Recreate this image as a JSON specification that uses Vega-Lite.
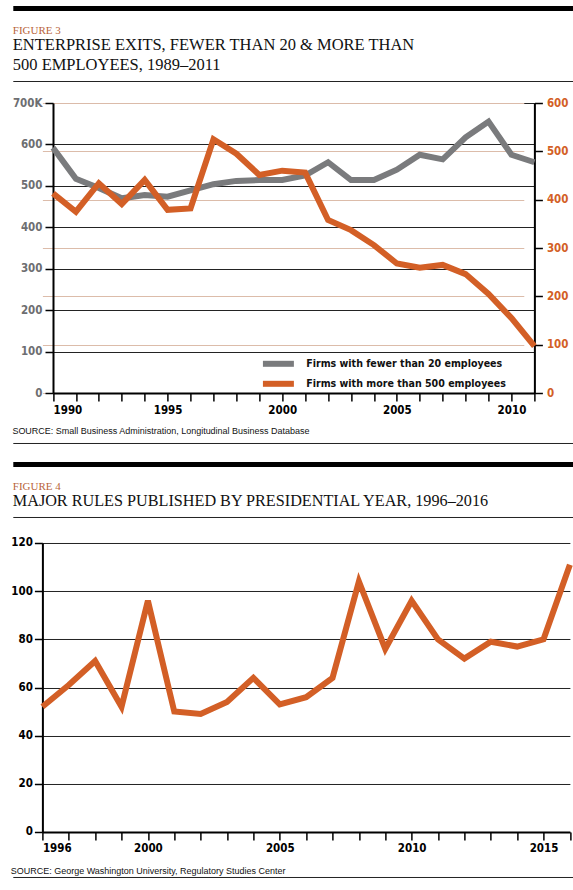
{
  "$schema": "https://vega.github.io/schema/vega-lite/v6.json",
  "padding": {"left": 10.4, "top": 8, "right": 0, "bottom": 0},
  "background": "white",
  "spacing": 0,
  "datasets": {
    "fig3": [
      {"year": 1990, "small": 592, "large": 413},
      {"year": 1991, "small": 517, "large": 375},
      {"year": 1992, "small": 495, "large": 434},
      {"year": 1993, "small": 470, "large": 391},
      {"year": 1994, "small": 478, "large": 441},
      {"year": 1995, "small": 474, "large": 379},
      {"year": 1996, "small": 489, "large": 382},
      {"year": 1997, "small": 504, "large": 525},
      {"year": 1998, "small": 512, "large": 495},
      {"year": 1999, "small": 514, "large": 451},
      {"year": 2000, "small": 514, "large": 460},
      {"year": 2001, "small": 525, "large": 456},
      {"year": 2002, "small": 557, "large": 358},
      {"year": 2003, "small": 514, "large": 337},
      {"year": 2004, "small": 514, "large": 306},
      {"year": 2005, "small": 539, "large": 268},
      {"year": 2006, "small": 575, "large": 259},
      {"year": 2007, "small": 564, "large": 265},
      {"year": 2008, "small": 617, "large": 246},
      {"year": 2009, "small": 655, "large": 205},
      {"year": 2010, "small": 575, "large": 155},
      {"year": 2011, "small": 557, "large": 97}
    ],
    "fig4": [
      {"year": 1996, "rules": 52},
      {"year": 1997, "rules": 61},
      {"year": 1998, "rules": 71},
      {"year": 1999, "rules": 52},
      {"year": 2000, "rules": 96},
      {"year": 2001, "rules": 50},
      {"year": 2002, "rules": 49},
      {"year": 2003, "rules": 54},
      {"year": 2004, "rules": 64},
      {"year": 2005, "rules": 53},
      {"year": 2006, "rules": 56},
      {"year": 2007, "rules": 64},
      {"year": 2008, "rules": 104},
      {"year": 2009, "rules": 76},
      {"year": 2010, "rules": 96},
      {"year": 2011, "rules": 80},
      {"year": 2012, "rules": 72},
      {"year": 2013, "rules": 79},
      {"year": 2014, "rules": 77},
      {"year": 2015, "rules": 80},
      {"year": 2016, "rules": 111}
    ],
    "none": []
  },
  "vconcat": [
    {
      "width": 530.6, "height": 2.5,
      "data": {"name": "none"},
      "mark": "rule",
      "encoding": {"x": {"field": "v", "type": "quantitative", "scale": {"domain": [0, 1], "range": [0, 560.2]},
        "axis": {"orient": "top", "position": -29.6, "title": null, "labels": false, "ticks": false, "grid": false, "domainColor": "#000", "domainWidth": 5}}}
    },
    {
      "width": 530.6, "height": 14,
      "data": {"name": "none"},
      "mark": "rule",
      "encoding": {"x": {"field": "v", "type": "quantitative", "scale": {"domain": [0, 1], "range": [0, 20]},
        "axis": {"orient": "bottom", "position": -32, "title": null, "labels": false, "ticks": false, "grid": false, "domainColor": "#fff", "domainWidth": 0.5}}}
    },
    {
      "width": 530.6, "height": 0.5,
      "data": {"name": "none"},
      "mark": "rule",
      "encoding": {"x": {"field": "v", "type": "quantitative", "scale": {"domain": [0, 1], "range": [0, 560.2]},
        "axis": {"orient": "top", "position": -29.6, "title": null, "labels": false, "ticks": false, "grid": false, "domainColor": "#222", "domainWidth": 1}}},
      "title": {
        "text": "FIGURE 3",
        "subtitle": ["ENTERPRISE EXITS, FEWER THAN 20 & MORE THAN", "500 EMPLOYEES, 1989–2011"],
        "anchor": "start",
        "font": "Liberation Serif",
        "fontSize": 11,
        "fontWeight": "normal",
        "color": "#b8643a",
        "subtitleFont": "Liberation Serif",
        "subtitleFontSize": 16.5,
        "subtitleColor": "#111",
        "subtitleLineHeight": 20,
        "subtitlePadding": 1,
        "offset": 7.5
      }
    },
    {
      "width": 530.6, "height": 14.25,
      "data": {"name": "none"},
      "mark": "rule", "encoding": {}
    },
    {
      "width": 492, "height": 290,
      "data": {"name": "fig3"},
      "title": {
        "text": "SOURCE: Small Business Administration, Longitudinal Business Database",
        "orient": "bottom", "anchor": "start",
        "font": "Liberation Sans", "fontSize": 9, "fontWeight": "normal",
        "color": "#111", "offset": 11.5
      },
      "encoding": {
        "x": {
          "field": "year", "type": "quantitative",
          "scale": {"domain": [1990, 2011], "nice": false, "zero": false, "range": [10.6, 492]},
          "axis": {
            "title": null,
            "values": [1990, 1991, 1992, 1993, 1994, 1995, 1996, 1997, 1998, 1999, 2000, 2001, 2002, 2003, 2004, 2005, 2006, 2007, 2008, 2009, 2010, 2011],
            "format": "d",
            "labelExpr": "datum.value % 5 == 0 ? datum.label : ''",
            "labelOverlap": false,
            "grid": false,
            "domainColor": "#000", "domainWidth": 2,
            "tickColor": "#000", "tickSize": 8, "tickWidth": 1.5,
            "labelColor": "#000", "labelPadding": 3
          }
        }
      },
      "layer": [
        {
          "mark": {"type": "line", "strokeWidth": 6, "color": "#7a7b7d"},
          "encoding": {
            "y": {
              "field": "small", "type": "quantitative",
              "scale": {"domain": [0, 700], "nice": false},
              "axis": {
                "title": null, "orient": "left", "offset": -10.6,
                "values": [0, 100, 200, 300, 400, 500, 600, 700],
                "labelExpr": "datum.value == 700 ? '700K' : datum.label",
                "grid": true, "gridColor": "#222", "gridWidth": 1,
                "domainColor": "#000", "domainWidth": 2,
                "tickColor": "#000", "tickSize": 8, "tickWidth": 1.5,
                "labelColor": "#6d6e71", "labelPadding": 3
              }
            },
            "color": {"datum": "Firms with fewer than 20 employees"}
          }
        },
        {
          "mark": {"type": "line", "strokeWidth": 6, "color": "#d35f26"},
          "encoding": {
            "y": {
              "field": "large", "type": "quantitative",
              "scale": {"domain": [0, 600], "nice": false},
              "axis": {
                "title": null, "orient": "right",
                "values": [0, 100, 200, 300, 400, 500, 600],
                "grid": true, "gridColor": "#dcbcaa", "gridWidth": 1,
                "domainColor": "#000", "domainWidth": 2,
                "tickColor": "#000", "tickSize": 8, "tickWidth": 1.5,
                "labelColor": "#d35f26", "labelPadding": 4
              }
            },
            "color": {
              "datum": "Firms with more than 500 employees",
              "scale": {
                "domain": ["Firms with fewer than 20 employees", "Firms with more than 500 employees"],
                "range": ["#7a7b7d", "#d35f26"]
              },
              "legend": {
                "title": null, "orient": "none",
                "legendX": 214.3, "legendY": 348.3, "padding": 0,
                "symbolType": "M-0.3,0H7", "symbolStrokeWidth": 6, "symbolSize": 72,
                "labelOffset": 34.5, "rowPadding": -21, "labelLimit": 0,
                "labelFontSize": 10.6, "labelFontWeight": "bold", "labelColor": "#111",
                "labelFont": "'Liberation Sans Narrow', 'DejaVu Sans Condensed', 'Roboto Condensed', Roboto, sans-serif",
                "encode": {"symbols": {"update": {"strokeCap": {"value": "round"}}}}
              }
            }
          }
        }
      ],
      "resolve": {"scale": {"y": "independent"}}
    },
    {
      "width": 530.6, "height": 6.5,
      "data": {"name": "none"},
      "mark": "rule", "encoding": {}
    },
    {
      "width": 530.6, "height": 0.5,
      "data": {"name": "none"},
      "mark": "rule",
      "encoding": {"x": {"field": "v", "type": "quantitative", "scale": {"domain": [0, 1], "range": [0, 560.2]},
        "axis": {"orient": "top", "position": -29.6, "title": null, "labels": false, "ticks": false, "grid": false, "domainColor": "#222", "domainWidth": 1}}}
    },
    {
      "width": 530.6, "height": 20,
      "data": {"name": "none"},
      "mark": "rule", "encoding": {}
    },
    {
      "width": 530.6, "height": 2.5,
      "data": {"name": "none"},
      "mark": "rule",
      "encoding": {"x": {"field": "v", "type": "quantitative", "scale": {"domain": [0, 1], "range": [0, 560.2]},
        "axis": {"orient": "top", "position": -29.6, "title": null, "labels": false, "ticks": false, "grid": false, "domainColor": "#000", "domainWidth": 5}}}
    },
    {
      "width": 530.6, "height": 14,
      "data": {"name": "none"},
      "mark": "rule", "encoding": {}
    },
    {
      "width": 530.6, "height": 0.5,
      "data": {"name": "none"},
      "mark": "rule",
      "encoding": {"x": {"field": "v", "type": "quantitative", "scale": {"domain": [0, 1], "range": [0, 560.2]},
        "axis": {"orient": "top", "position": -29.6, "title": null, "labels": false, "ticks": false, "grid": false, "domainColor": "#222", "domainWidth": 1}}},
      "title": {
        "text": "FIGURE 4",
        "subtitle": "MAJOR RULES PUBLISHED BY PRESIDENTIAL YEAR, 1996–2016",
        "anchor": "start",
        "font": "Liberation Serif",
        "fontSize": 11,
        "fontWeight": "normal",
        "color": "#b8643a",
        "subtitleFont": "Liberation Serif",
        "subtitleFontSize": 16.2,
        "subtitleColor": "#111",
        "subtitleLineHeight": 20,
        "subtitlePadding": 1,
        "offset": 7.5
      }
    },
    {
      "width": 530.6, "height": 18.5,
      "data": {"name": "none"},
      "mark": "rule", "encoding": {}
    },
    {
      "width": 527.5, "height": 289,
      "data": {"name": "fig4"},
      "title": {
        "text": "SOURCE: George Washington University, Regulatory Studies Center",
        "orient": "bottom", "anchor": "start",
        "font": "Liberation Sans", "fontSize": 9, "fontWeight": "normal",
        "color": "#111", "offset": 12.5
      },
      "mark": {"type": "line", "strokeWidth": 6, "color": "#d35f26"},
      "encoding": {
        "x": {
          "field": "year", "type": "quantitative",
          "scale": {"domain": [1996, 2016], "nice": false, "zero": false},
          "axis": {
            "title": null,
            "values": [1996, 1997, 1998, 1999, 2000, 2001, 2002, 2003, 2004, 2005, 2006, 2007, 2008, 2009, 2010, 2011, 2012, 2013, 2014, 2015, 2016],
            "format": "d",
            "labelExpr": "datum.value == 1996 || datum.value % 5 == 0 ? datum.label : ''",
            "labelOverlap": false,
            "grid": false,
            "domainColor": "#000", "domainWidth": 2,
            "tickColor": "#000", "tickSize": 8, "tickWidth": 1.5,
            "labelColor": "#000", "labelPadding": 3
          }
        },
        "y": {
          "field": "rules", "type": "quantitative",
          "scale": {"domain": [0, 120], "nice": false},
          "axis": {
            "title": null,
            "values": [0, 20, 40, 60, 80, 100, 120],
            "grid": true, "gridColor": "#222", "gridWidth": 1,
            "domainColor": "#000", "domainWidth": 2,
            "tickColor": "#000", "tickSize": 8, "tickWidth": 1.5,
            "labelColor": "#000", "labelPadding": 2
          }
        }
      }
    },
    {
      "width": 530.6, "height": 1,
      "data": {"name": "none"},
      "mark": "rule", "encoding": {}
    },
    {
      "width": 530.6, "height": 0.5,
      "data": {"name": "none"},
      "mark": "rule",
      "encoding": {"x": {"field": "v", "type": "quantitative", "scale": {"domain": [0, 1], "range": [0, 560.2]},
        "axis": {"orient": "top", "position": -29.6, "title": null, "labels": false, "ticks": false, "grid": false, "domainColor": "#222", "domainWidth": 1}}}
    }
  ],
  "config": {
    "view": {"stroke": null},
    "axis": {
      "labelFont": "'Liberation Sans Narrow', 'DejaVu Sans Condensed', 'Roboto Condensed', Roboto, sans-serif",
      "labelFontSize": 11.5,
      "labelFontWeight": "bold"
    },
    "line": {"strokeJoin": "miter", "strokeCap": "butt"}
  }
}
